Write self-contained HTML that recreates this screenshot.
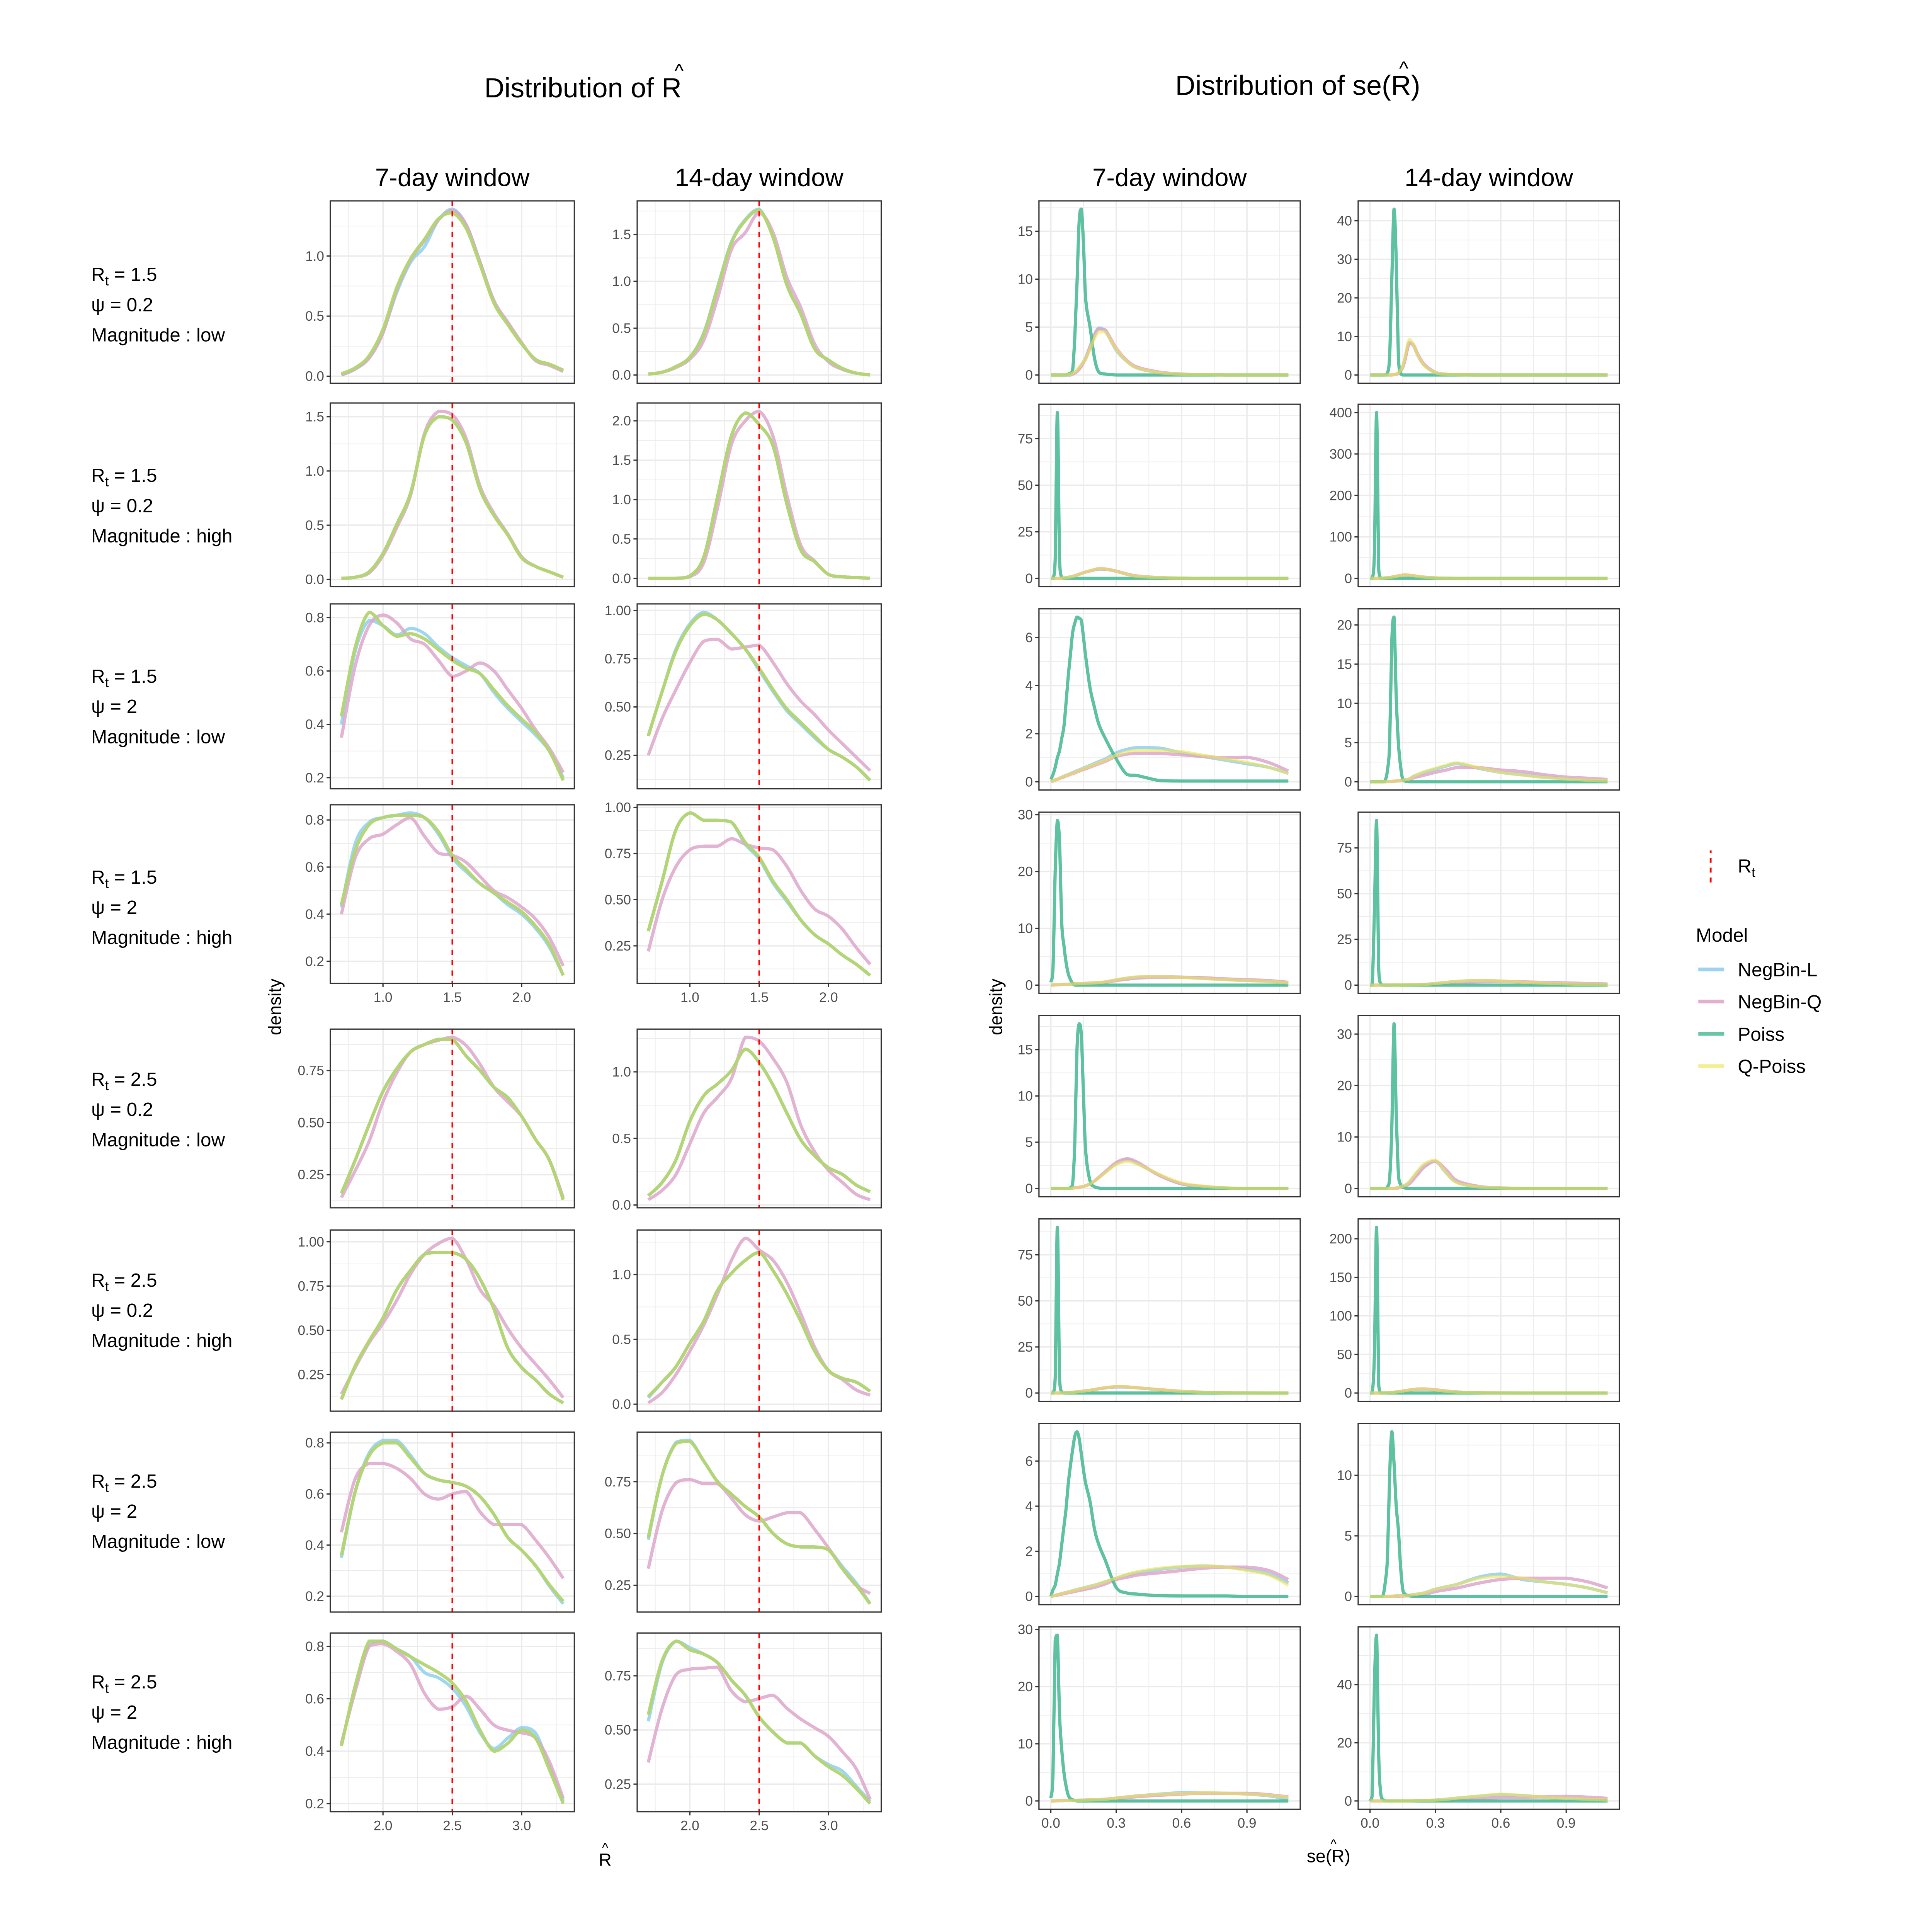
<!DOCTYPE html>
<html><head><meta charset="utf-8">
<style>
html,body{margin:0;padding:0;background:#fff;width:100%;height:100%;overflow:hidden;}
svg{display:block;width:100vw;height:100vh;}
text{font-family:"Liberation Sans",Arial,sans-serif;}
</style></head>
<body>
<svg id="chart" xmlns="http://www.w3.org/2000/svg" viewBox="0 0 1513.5 1567.6" preserveAspectRatio="xMinYMin meet">
<rect x="0" y="0" width="1513.5" height="1567.6" fill="#ffffff"/>
</svg>
<script>
// ---------- shared x grids ----------
const xR15 = [0.7,0.8,0.9,1.0,1.1,1.2,1.3,1.4,1.5,1.6,1.7,1.8,1.9,2.0,2.1,2.2,2.3];
const xR25 = [1.7,1.8,1.9,2.0,2.1,2.2,2.3,2.4,2.5,2.6,2.7,2.8,2.9,3.0,3.1,3.2,3.3];
const xSE  = [0,0.01,0.02,0.03,0.04,0.05,0.06,0.07,0.08,0.09,0.10,0.11,0.12,0.13,0.14,0.15,0.16,0.18,0.20,0.22,0.25,0.30,0.35,0.40,0.50,0.60,0.70,0.80,0.90,1.0,1.09];
const seriesNames = ["NegBin-L","NegBin-Q","Poiss","Q-Poiss"];
const rowRt  = ["1.5","1.5","1.5","1.5","2.5","2.5","2.5","2.5"];
const rowPsi = ["0.2","0.2","2","2","0.2","0.2","2","2"];
const rowMag = ["low","high","low","high","low","high","low","high"];
const trueR  = [1.5,1.5,1.5,1.5,2.5,2.5,2.5,2.5];
const xTicksR15 = [1.0,1.5,2.0];
const xTicksR25 = [2.0,2.5,3.0];
const xTicksSE  = [0.0,0.3,0.6,0.9];

// ---------- R-hat, 7-day (column 1) ----------
const c1_ticks = [[0,0.5,1.0],[0,0.5,1.0,1.5],[0.2,0.4,0.6,0.8],[0.2,0.4,0.6,0.8],[0.25,0.5,0.75],[0.25,0.5,0.75,1.0],[0.2,0.4,0.6,0.8],[0.2,0.4,0.6,0.8]];
const c1_L = [
 [0.01,0.06,0.16,0.37,0.70,0.95,1.08,1.30,1.39,1.26,0.95,0.62,0.44,0.27,0.14,0.10,0.05],
 [0.01,0.02,0.07,0.24,0.51,0.80,1.33,1.50,1.47,1.26,0.83,0.59,0.41,0.20,0.12,0.07,0.02],
 [0.40,0.675,0.79,0.77,0.735,0.76,0.74,0.69,0.65,0.62,0.59,0.52,0.46,0.41,0.36,0.30,0.20],
 [0.43,0.70,0.79,0.81,0.82,0.83,0.81,0.74,0.64,0.58,0.53,0.49,0.44,0.40,0.34,0.26,0.14],
 [0.16,0.32,0.49,0.65,0.76,0.84,0.875,0.90,0.90,0.82,0.75,0.67,0.62,0.53,0.42,0.32,0.13],
 [0.11,0.30,0.44,0.57,0.73,0.84,0.93,0.94,0.94,0.90,0.79,0.62,0.40,0.29,0.22,0.14,0.09],
 [0.35,0.61,0.76,0.81,0.81,0.75,0.68,0.655,0.645,0.63,0.59,0.52,0.43,0.38,0.32,0.24,0.17],
 [0.42,0.65,0.81,0.82,0.79,0.76,0.70,0.68,0.64,0.57,0.47,0.41,0.45,0.49,0.47,0.34,0.21]];
const c1_Q = [
 [0.01,0.06,0.15,0.36,0.72,0.97,1.13,1.30,1.38,1.26,0.95,0.63,0.45,0.28,0.13,0.09,0.04],
 [0.01,0.02,0.06,0.22,0.48,0.78,1.35,1.55,1.52,1.30,0.86,0.61,0.42,0.21,0.12,0.07,0.02],
 [0.35,0.62,0.77,0.81,0.78,0.72,0.70,0.64,0.58,0.60,0.63,0.60,0.53,0.46,0.38,0.31,0.22],
 [0.40,0.64,0.72,0.74,0.78,0.81,0.73,0.66,0.65,0.62,0.56,0.50,0.47,0.43,0.38,0.30,0.18],
 [0.14,0.27,0.41,0.60,0.74,0.84,0.875,0.895,0.91,0.87,0.78,0.67,0.60,0.53,0.42,0.32,0.14],
 [0.14,0.29,0.43,0.54,0.67,0.82,0.93,0.99,1.02,0.90,0.73,0.64,0.51,0.40,0.31,0.22,0.12],
 [0.45,0.66,0.72,0.72,0.70,0.66,0.60,0.58,0.60,0.61,0.53,0.48,0.48,0.48,0.42,0.35,0.27],
 [0.43,0.63,0.80,0.81,0.78,0.73,0.62,0.56,0.57,0.61,0.56,0.50,0.48,0.47,0.45,0.36,0.22]];
const c1_P = [
 [0.02,0.07,0.17,0.39,0.74,0.98,1.14,1.31,1.36,1.23,0.93,0.61,0.43,0.27,0.14,0.10,0.05],
 [0.01,0.02,0.07,0.24,0.51,0.80,1.33,1.50,1.47,1.26,0.83,0.59,0.41,0.20,0.12,0.07,0.02],
 [0.43,0.69,0.82,0.77,0.73,0.74,0.72,0.68,0.64,0.61,0.59,0.53,0.47,0.42,0.37,0.30,0.19],
 [0.44,0.67,0.78,0.81,0.82,0.82,0.81,0.75,0.65,0.59,0.53,0.49,0.45,0.41,0.35,0.27,0.14],
 [0.16,0.32,0.49,0.65,0.76,0.84,0.875,0.90,0.90,0.82,0.75,0.67,0.62,0.53,0.42,0.32,0.13],
 [0.11,0.30,0.44,0.57,0.73,0.84,0.93,0.94,0.94,0.90,0.79,0.62,0.40,0.29,0.22,0.14,0.09],
 [0.36,0.61,0.75,0.80,0.80,0.74,0.68,0.655,0.645,0.63,0.59,0.52,0.43,0.38,0.32,0.245,0.18],
 [0.42,0.65,0.82,0.82,0.79,0.76,0.73,0.70,0.66,0.59,0.48,0.40,0.43,0.48,0.45,0.33,0.20]];
const c1_QP = [
 [0.02,0.07,0.17,0.39,0.74,0.98,1.14,1.31,1.36,1.23,0.93,0.61,0.43,0.27,0.14,0.10,0.05],
 [0.01,0.02,0.07,0.24,0.51,0.80,1.33,1.50,1.47,1.26,0.83,0.59,0.41,0.20,0.12,0.07,0.02],
 [0.43,0.69,0.82,0.77,0.73,0.74,0.72,0.68,0.64,0.61,0.59,0.53,0.47,0.42,0.37,0.30,0.19],
 [0.44,0.67,0.78,0.81,0.82,0.82,0.81,0.75,0.65,0.59,0.53,0.49,0.45,0.41,0.35,0.27,0.14],
 [0.16,0.32,0.49,0.65,0.76,0.84,0.875,0.90,0.90,0.82,0.75,0.67,0.62,0.53,0.42,0.32,0.13],
 [0.11,0.30,0.44,0.57,0.73,0.84,0.93,0.94,0.94,0.90,0.79,0.62,0.40,0.29,0.22,0.14,0.09],
 [0.36,0.61,0.75,0.80,0.80,0.74,0.68,0.655,0.645,0.63,0.59,0.52,0.43,0.38,0.32,0.245,0.18],
 [0.42,0.65,0.82,0.82,0.79,0.76,0.73,0.70,0.66,0.59,0.48,0.40,0.43,0.48,0.45,0.33,0.20]];

// ---------- R-hat, 14-day (column 2) ----------
const c2_ticks = [[0,0.5,1.0,1.5],[0,0.5,1.0,1.5,2.0],[0.25,0.5,0.75,1.0],[0.25,0.5,0.75,1.0],[0,0.5,1.0],[0,0.5,1.0],[0.25,0.5,0.75],[0.25,0.5,0.75]];
const c2_L = [
 [0.01,0.03,0.09,0.19,0.45,0.94,1.42,1.66,1.77,1.47,0.96,0.65,0.28,0.16,0.07,0.02,0.0],
 [0.0,0.0,0.0,0.03,0.27,1.04,1.81,2.10,1.95,1.68,0.94,0.36,0.21,0.05,0.02,0.01,0.0],
 [0.35,0.58,0.80,0.93,0.99,0.95,0.88,0.80,0.69,0.58,0.48,0.41,0.34,0.28,0.24,0.19,0.12],
 [0.33,0.60,0.88,0.97,0.93,0.93,0.92,0.80,0.72,0.59,0.49,0.39,0.31,0.26,0.20,0.15,0.09],
 [0.07,0.17,0.34,0.63,0.82,0.91,1.01,1.17,1.07,0.90,0.69,0.49,0.37,0.28,0.23,0.15,0.10],
 [0.05,0.17,0.29,0.47,0.64,0.88,1.01,1.11,1.17,1.03,0.85,0.64,0.41,0.26,0.20,0.17,0.10],
 [0.47,0.78,0.94,0.95,0.85,0.75,0.69,0.63,0.58,0.50,0.45,0.435,0.435,0.42,0.34,0.26,0.16],
 [0.54,0.81,0.91,0.88,0.85,0.81,0.73,0.66,0.56,0.49,0.44,0.44,0.38,0.34,0.31,0.24,0.17]];
const c2_Q = [
 [0.01,0.03,0.08,0.17,0.37,0.82,1.34,1.52,1.73,1.52,1.04,0.72,0.33,0.14,0.06,0.02,0.0],
 [0.0,0.0,0.0,0.02,0.20,0.90,1.70,2.00,2.12,1.80,1.05,0.42,0.22,0.05,0.02,0.01,0.0],
 [0.25,0.44,0.59,0.73,0.84,0.85,0.80,0.81,0.82,0.73,0.62,0.53,0.46,0.38,0.31,0.24,0.17],
 [0.22,0.50,0.68,0.77,0.79,0.79,0.83,0.80,0.78,0.77,0.68,0.55,0.45,0.41,0.34,0.24,0.15],
 [0.04,0.11,0.23,0.46,0.69,0.81,0.95,1.26,1.23,1.10,0.92,0.60,0.40,0.26,0.17,0.08,0.04],
 [0.01,0.09,0.23,0.41,0.61,0.85,1.11,1.28,1.19,1.11,0.94,0.70,0.44,0.26,0.19,0.11,0.07],
 [0.33,0.61,0.745,0.76,0.74,0.74,0.67,0.59,0.56,0.58,0.60,0.60,0.52,0.43,0.33,0.25,0.21],
 [0.35,0.60,0.755,0.78,0.785,0.79,0.68,0.63,0.645,0.66,0.60,0.55,0.51,0.47,0.40,0.32,0.18]];
const c2_P = [
 [0.01,0.03,0.09,0.19,0.44,0.93,1.41,1.65,1.76,1.47,0.96,0.65,0.28,0.16,0.07,0.02,0.0],
 [0.0,0.0,0.0,0.03,0.27,1.04,1.81,2.10,1.95,1.68,0.94,0.36,0.21,0.05,0.02,0.01,0.0],
 [0.35,0.58,0.79,0.92,0.98,0.95,0.88,0.80,0.70,0.59,0.49,0.42,0.35,0.28,0.24,0.19,0.12],
 [0.33,0.60,0.88,0.97,0.93,0.93,0.92,0.81,0.73,0.60,0.50,0.39,0.31,0.26,0.20,0.15,0.09],
 [0.07,0.17,0.34,0.63,0.82,0.91,1.01,1.17,1.07,0.90,0.69,0.49,0.37,0.28,0.23,0.15,0.10],
 [0.06,0.17,0.29,0.47,0.64,0.88,1.01,1.11,1.17,1.03,0.85,0.64,0.41,0.26,0.20,0.17,0.10],
 [0.48,0.78,0.935,0.945,0.85,0.75,0.69,0.63,0.58,0.50,0.45,0.435,0.435,0.42,0.33,0.25,0.16],
 [0.57,0.82,0.91,0.87,0.85,0.81,0.73,0.66,0.56,0.49,0.44,0.44,0.38,0.33,0.29,0.23,0.16]];
const c2_QP = [
 [0.01,0.03,0.09,0.19,0.44,0.93,1.41,1.65,1.76,1.47,0.96,0.65,0.28,0.16,0.07,0.02,0.0],
 [0.0,0.0,0.0,0.03,0.27,1.04,1.81,2.10,1.95,1.68,0.94,0.36,0.21,0.05,0.02,0.01,0.0],
 [0.35,0.58,0.79,0.92,0.98,0.95,0.88,0.80,0.70,0.59,0.49,0.42,0.35,0.28,0.24,0.19,0.12],
 [0.33,0.60,0.88,0.97,0.93,0.93,0.92,0.81,0.73,0.60,0.50,0.39,0.31,0.26,0.20,0.15,0.09],
 [0.07,0.17,0.34,0.63,0.82,0.91,1.01,1.17,1.07,0.90,0.69,0.49,0.37,0.28,0.23,0.15,0.10],
 [0.06,0.17,0.29,0.47,0.64,0.88,1.01,1.11,1.17,1.03,0.85,0.64,0.41,0.26,0.20,0.17,0.10],
 [0.48,0.78,0.935,0.945,0.85,0.75,0.69,0.63,0.58,0.50,0.45,0.435,0.435,0.42,0.33,0.25,0.16],
 [0.57,0.82,0.91,0.87,0.85,0.81,0.73,0.66,0.56,0.49,0.44,0.44,0.38,0.33,0.29,0.23,0.16]];

// ---------- se(R-hat), 7-day (column 3) ----------
const c3_ticks = [[0,5,10,15],[0,25,50,75],[0,2,4,6],[0,10,20,30],[0,5,10,15],[0,25,50,75],[0,2,4,6],[0,10,20,30]];
const c3_P = [
 [0,0,0,0,0,0,0,0,0.1,0.2,0.5,4,9.5,16,17.3,13.6,7.9,5,1.8,0.3,0.1,0,0,0,0,0,0,0,0,0,0],
 [0,0,10,89,10,0.5,0,0,0,0,0,0,0,0,0,0,0,0,0,0,0,0,0,0,0,0,0,0,0,0,0],
 [0.1,0.3,0.6,1,1.3,1.8,2.3,3.3,4.4,5.3,6.2,6.6,6.85,6.8,6.7,6,5.2,3.9,3.1,2.4,1.8,0.95,0.3,0.25,0.05,0.03,0.03,0.03,0.03,0.03,0.03],
 [0.5,3,20,29,25,11,7,4,2,1,0.3,0,0,0,0,0,0,0,0,0,0,0,0,0,0,0,0,0,0,0,0],
 [0,0,0,0,0,0,0,0,0,0.1,0.5,5,15,17.8,16.5,10,4,0.8,0.2,0.05,0,0,0,0,0,0,0,0,0,0,0],
 [0,0,8,90,8,0.5,0,0,0,0,0,0,0,0,0,0,0,0,0,0,0,0,0,0,0,0,0,0,0,0,0],
 [0,0.3,0.5,1,1.5,2.3,3.1,3.9,5,5.8,6.5,7.1,7.3,7.0,6.3,5.6,5,4.2,3,2.3,1.6,0.4,0.15,0.1,0.03,0.02,0.02,0.02,0,0,0],
 [0.5,5,28,29,15,9,5,2.6,1,0.4,0.2,0.1,0,0,0,0,0,0,0,0,0,0,0,0,0,0,0,0,0,0,0]];
const c3_L = [
 [0,0,0,0,0,0,0,0,0,0,0.1,0.2,0.4,0.7,1,1.4,1.8,3,4.2,4.9,4.6,2.6,1.4,0.7,0.25,0.08,0.03,0,0,0,0],
 [0,0,0,0,0,0.1,0.2,0.4,0.6,0.8,1.1,1.4,1.8,2.2,2.6,3,3.4,4,4.6,5,4.9,3.8,2.2,1.2,0.4,0.1,0,0,0,0,0],
 [0,0.04,0.08,0.11,0.15,0.19,0.23,0.27,0.3,0.34,0.38,0.42,0.46,0.49,0.53,0.57,0.61,0.68,0.76,0.84,0.95,1.2,1.35,1.42,1.4,1.2,1.05,0.9,0.75,0.6,0.35],
 [0,0.02,0.04,0.06,0.08,0.1,0.12,0.14,0.16,0.18,0.2,0.22,0.24,0.26,0.28,0.3,0.32,0.36,0.4,0.45,0.55,0.9,1.2,1.4,1.5,1.4,1.2,1.0,0.8,0.7,0.4],
 [0,0,0,0,0,0,0,0,0,0,0.05,0.07,0.1,0.13,0.17,0.22,0.3,0.5,0.8,1.2,1.8,2.7,3.1,2.7,1.4,0.5,0.2,0.05,0,0,0],
 [0,0,0,0,0,0.05,0.1,0.15,0.2,0.3,0.4,0.5,0.6,0.75,0.9,1.05,1.2,1.5,1.9,2.3,2.8,3.3,3.2,2.8,1.8,0.9,0.4,0.15,0.05,0,0],
 [0,0.03,0.05,0.08,0.1,0.13,0.15,0.18,0.2,0.23,0.25,0.28,0.3,0.33,0.35,0.38,0.4,0.45,0.5,0.56,0.65,0.8,0.95,1.05,1.2,1.3,1.35,1.3,1.2,1.0,0.6],
 [0,0.01,0.02,0.03,0.04,0.05,0.06,0.07,0.08,0.09,0.1,0.11,0.12,0.13,0.14,0.15,0.16,0.18,0.2,0.25,0.3,0.5,0.7,0.9,1.2,1.45,1.4,1.35,1.2,0.9,0.3]];
const c3_Q = [
 [0,0,0,0,0,0,0,0,0,0,0.1,0.2,0.35,0.6,0.9,1.3,1.7,2.9,4.1,4.8,4.7,2.8,1.5,0.8,0.3,0.1,0.03,0,0,0,0],
 [0,0,0,0,0,0.1,0.2,0.4,0.6,0.8,1.1,1.4,1.8,2.2,2.6,3,3.4,4,4.6,5.1,5.0,3.9,2.3,1.2,0.4,0.1,0,0,0,0,0],
 [0,0.03,0.07,0.1,0.14,0.17,0.2,0.24,0.27,0.31,0.34,0.37,0.41,0.44,0.48,0.51,0.54,0.61,0.68,0.75,0.85,1.05,1.15,1.18,1.18,1.12,1.05,1.0,1.02,0.8,0.45],
 [0,0.02,0.04,0.06,0.08,0.1,0.12,0.14,0.16,0.18,0.2,0.22,0.24,0.26,0.28,0.3,0.32,0.35,0.38,0.42,0.5,0.8,1.05,1.25,1.4,1.4,1.3,1.1,0.95,0.8,0.5],
 [0,0,0,0,0,0,0,0,0,0,0.05,0.07,0.1,0.13,0.17,0.22,0.3,0.5,0.8,1.2,1.8,2.8,3.2,2.8,1.4,0.5,0.2,0.05,0,0,0],
 [0,0,0,0,0,0.05,0.1,0.15,0.2,0.3,0.4,0.5,0.6,0.75,0.9,1.05,1.2,1.5,1.9,2.3,2.8,3.4,3.3,2.8,1.8,0.9,0.4,0.15,0.05,0,0],
 [0,0.02,0.04,0.06,0.08,0.1,0.12,0.14,0.16,0.18,0.2,0.22,0.24,0.26,0.28,0.3,0.32,0.36,0.4,0.46,0.55,0.75,0.85,0.95,1.05,1.15,1.25,1.3,1.3,1.15,0.75],
 [0,0.01,0.02,0.03,0.04,0.05,0.06,0.07,0.08,0.09,0.1,0.11,0.12,0.13,0.14,0.15,0.16,0.18,0.2,0.25,0.3,0.45,0.6,0.75,1.0,1.2,1.35,1.35,1.35,1.1,0.7]];
const c3_QP = [
 [0,0,0,0,0,0,0,0,0.05,0.1,0.2,0.3,0.5,0.8,1.1,1.4,1.7,2.7,3.8,4.5,4.5,2.7,1.4,0.7,0.25,0.08,0.03,0,0,0,0],
 [0,0,0,0,0,0.1,0.2,0.4,0.6,0.8,1.1,1.4,1.8,2.2,2.6,3,3.4,4.1,4.8,5.3,5.1,3.8,2.1,1.1,0.4,0.1,0,0,0,0,0],
 [0,0.04,0.07,0.11,0.14,0.18,0.22,0.25,0.29,0.32,0.36,0.4,0.43,0.47,0.5,0.54,0.58,0.65,0.72,0.79,0.9,1.1,1.25,1.3,1.3,1.25,1.1,0.95,0.8,0.6,0.35],
 [0,0.02,0.04,0.06,0.08,0.1,0.12,0.14,0.16,0.18,0.2,0.22,0.24,0.26,0.28,0.3,0.32,0.36,0.4,0.46,0.58,0.95,1.25,1.45,1.5,1.35,1.15,0.95,0.8,0.65,0.4],
 [0,0,0,0,0,0,0,0,0,0,0.05,0.07,0.1,0.13,0.17,0.22,0.3,0.5,0.8,1.15,1.7,2.6,2.9,2.6,1.5,0.6,0.25,0.07,0,0,0],
 [0,0,0,0,0,0.05,0.1,0.15,0.2,0.3,0.4,0.5,0.6,0.75,0.9,1.05,1.2,1.5,1.9,2.3,2.9,3.5,3.3,2.8,1.8,0.9,0.4,0.15,0.05,0,0],
 [0,0.03,0.05,0.08,0.1,0.13,0.15,0.18,0.2,0.23,0.25,0.28,0.3,0.33,0.35,0.38,0.4,0.45,0.5,0.56,0.65,0.82,0.98,1.1,1.25,1.32,1.35,1.3,1.15,0.95,0.5],
 [0,0.01,0.02,0.03,0.04,0.05,0.06,0.07,0.08,0.09,0.1,0.11,0.12,0.13,0.14,0.15,0.16,0.18,0.2,0.25,0.3,0.5,0.7,0.9,1.15,1.3,1.4,1.35,1.2,1.0,0.6]];

// ---------- se(R-hat), 14-day (column 4) ----------
const c4_ticks = [[0,10,20,30,40],[0,100,200,300,400],[0,5,10,15,20],[0,25,50,75],[0,10,20,30],[0,50,100,150,200],[0,5,10],[0,20,40]];
const c4_P = [
 [0,0,0,0,0,0,0,0,0.5,5,25,43,30,5,0.5,0,0,0,0,0,0,0,0,0,0,0,0,0,0,0,0],
 [0,0,60,400,20,0,0,0,0,0,0,0,0,0,0,0,0,0,0,0,0,0,0,0,0,0,0,0,0,0,0],
 [0,0,0,0,0,0,0,0.2,1.5,5,18,21,11,5,2,0.3,0.1,0,0,0,0,0,0,0,0,0,0,0,0,0,0],
 [0,0,40,90,8,0.5,0,0,0,0,0,0,0,0,0,0,0,0,0,0,0,0,0,0,0,0,0,0,0,0,0],
 [0,0,0,0,0,0,0,0,0.3,2,12,32,15,3,0.8,0.3,0.1,0,0,0,0,0,0,0,0,0,0,0,0,0,0],
 [0,0,50,215,10,0,0,0,0,0,0,0,0,0,0,0,0,0,0,0,0,0,0,0,0,0,0,0,0,0,0],
 [0,0,0,0,0,0,0.1,1.2,3.3,10,13.6,11,7.5,5.5,2.5,0.6,0.2,0.05,0,0,0,0,0,0,0,0,0,0,0,0,0],
 [0,2,40,57,15,2,0.5,0.1,0,0,0,0,0,0,0,0,0,0,0,0,0,0,0,0,0,0,0,0,0,0,0]];
const c4_L = [
 [0,0,0,0,0,0,0,0,0,0,0,0.1,0.2,0.5,1,2,4,8.5,7.5,5,2.5,0.6,0.2,0.05,0,0,0,0,0,0,0],
 [0,0,0,0,0,0.2,0.5,1,1.5,2.2,3,4,5,6,7,7.8,8,7.2,6,4.5,2.8,1,0.3,0.1,0,0,0,0,0,0,0],
 [0,0,0,0,0,0,0,0,0.02,0.04,0.06,0.08,0.1,0.13,0.16,0.2,0.25,0.35,0.7,0.9,1.2,1.6,2.0,2.3,1.7,1.2,0.9,0.6,0.4,0.2,0.1],
 [0,0,0,0,0,0,0,0,0,0,0,0.02,0.04,0.06,0.08,0.1,0.12,0.15,0.2,0.25,0.4,0.9,1.5,2.0,2.5,2.2,1.6,1.1,0.7,0.4,0.2],
 [0,0,0,0,0,0,0,0,0,0,0,0,0.1,0.2,0.3,0.45,0.6,1.2,2.2,3.2,4.5,5.3,3,1.2,0.3,0.1,0,0,0,0,0],
 [0,0,0,0,0,0,0.1,0.2,0.3,0.5,0.7,1,1.3,1.7,2.1,2.5,3,3.8,4.5,5,5,4,2.5,1.3,0.4,0.1,0,0,0,0,0],
 [0,0,0,0,0,0,0,0,0,0,0.02,0.03,0.04,0.05,0.06,0.07,0.08,0.1,0.15,0.2,0.3,0.6,0.8,1.0,1.6,1.85,1.4,1.2,1.0,0.7,0.3],
 [0,0,0,0,0,0,0,0,0,0,0,0,0,0,0,0,0,0,0.05,0.1,0.2,0.3,0.6,1.0,1.6,2.1,1.8,1.3,0.9,0.6,0.3]];
const c4_Q = [
 [0,0,0,0,0,0,0,0,0,0,0,0.1,0.2,0.5,1,2,3.8,8.3,7.8,5.3,2.7,0.7,0.2,0.05,0,0,0,0,0,0,0],
 [0,0,0,0,0,0.2,0.5,1,1.5,2.2,3,4,5,6,7,7.8,8.2,7.5,6.2,4.6,2.9,1,0.3,0.1,0,0,0,0,0,0,0],
 [0,0,0,0,0,0,0,0,0.02,0.03,0.05,0.07,0.09,0.11,0.14,0.17,0.2,0.28,0.5,0.65,0.85,1.2,1.5,1.8,1.8,1.5,1.3,0.9,0.6,0.45,0.3],
 [0,0,0,0,0,0,0,0,0,0,0,0.02,0.03,0.05,0.07,0.08,0.1,0.12,0.16,0.2,0.3,0.7,1.1,1.4,1.8,2.0,1.8,1.5,1.2,0.9,0.6],
 [0,0,0,0,0,0,0,0,0,0,0,0,0.05,0.1,0.2,0.3,0.4,0.9,1.8,2.8,4.2,5.3,3.6,1.5,0.4,0.1,0,0,0,0,0],
 [0,0,0,0,0,0,0.1,0.2,0.3,0.5,0.7,1,1.3,1.7,2.1,2.5,3,3.8,4.6,5.2,5.3,4.2,2.6,1.3,0.4,0.1,0,0,0,0,0],
 [0,0,0,0,0,0,0,0,0,0,0.01,0.01,0.02,0.02,0.03,0.03,0.04,0.05,0.07,0.1,0.15,0.4,0.55,0.7,1.1,1.4,1.5,1.5,1.5,1.2,0.7],
 [0,0,0,0,0,0,0,0,0,0,0,0,0,0,0,0,0,0,0.02,0.03,0.05,0.1,0.2,0.4,0.8,1.2,1.3,1.4,1.6,1.3,0.9]];
const c4_QP = [
 [0,0,0,0,0,0,0,0,0,0,0,0.1,0.3,0.6,1.2,2.3,4.5,9.2,7.8,5,2.4,0.6,0.2,0.05,0,0,0,0,0,0,0],
 [0,0,0,0,0,0.2,0.5,1,1.5,2.2,3,4,5,6,7,8,8.5,7.8,6.5,4.8,3,1,0.3,0.1,0,0,0,0,0,0,0],
 [0,0,0,0,0,0,0,0,0.02,0.04,0.06,0.08,0.1,0.13,0.16,0.2,0.25,0.35,0.7,0.95,1.3,1.7,2.1,2.4,1.8,1.2,0.85,0.55,0.35,0.2,0.1],
 [0,0,0,0,0,0,0,0,0,0,0,0.02,0.04,0.06,0.08,0.1,0.12,0.15,0.2,0.25,0.4,0.9,1.5,2.1,2.6,2.2,1.6,1.1,0.7,0.4,0.2],
 [0,0,0,0,0,0,0,0,0,0,0,0,0.1,0.2,0.3,0.45,0.6,1.3,2.4,3.5,4.8,5.5,3,1.1,0.3,0.1,0,0,0,0,0],
 [0,0,0,0,0,0,0.1,0.2,0.3,0.5,0.7,1,1.3,1.7,2.1,2.5,3,3.9,4.7,5.3,5.2,4,2.4,1.2,0.4,0.1,0,0,0,0,0],
 [0,0,0,0,0,0,0,0,0,0,0.02,0.03,0.04,0.05,0.06,0.07,0.08,0.1,0.15,0.2,0.3,0.6,0.8,1.0,1.5,1.65,1.5,1.2,1.0,0.7,0.3],
 [0,0,0,0,0,0,0,0,0,0,0,0,0,0,0,0,0,0,0.05,0.1,0.2,0.3,0.6,1.0,1.7,2.3,1.9,1.3,0.9,0.6,0.3]];
</script>
<script>
const NS = "http://www.w3.org/2000/svg";
const svg = document.getElementById("chart");
const COLORS = ["#8ECFF0","#DDA6CA","#4DBB98","#EFE35C"];
const OPAC = [0.85,0.85,0.9,0.62];
const colX = [[268,466],[517,715],[843,1055],[1102,1314]];
const leftRows = [[163,311],[327,476],[490,640],[653,798],[835,980],[998,1145],[1162,1308],[1325,1470]];
const rightRows = [[163,311],[328,476],[494,641],[659,806],[824,971],[989,1137],[1155,1302],[1320,1468]];

function mk(tag, attrs, parent){
  const e = document.createElementNS(NS, tag);
  for (const k in attrs) e.setAttribute(k, attrs[k]);
  (parent||svg).appendChild(e);
  return e;
}
function decimals(arr){
  let d = 0;
  arr.forEach(v=>{ const s = String(v); const i = s.indexOf("."); if(i>=0) d = Math.max(d, s.length-i-1); });
  return d;
}
function smoothPath(pts){
  let d = "M" + pts[0][0].toFixed(2) + "," + pts[0][1].toFixed(2);
  for (let i=0;i<pts.length-1;i++){
    const p0 = pts[Math.max(0,i-1)], p1 = pts[i], p2 = pts[i+1], p3 = pts[Math.min(pts.length-1,i+2)];
    const lo = Math.min(p1[1],p2[1]), hi = Math.max(p1[1],p2[1]);
    const c1x = p1[0] + (p2[0]-p0[0])/6, c2x = p2[0] - (p3[0]-p1[0])/6;
    let c1y = p1[1] + (p2[1]-p0[1])/6, c2y = p2[1] - (p3[1]-p1[1])/6;
    c1y = Math.min(hi, Math.max(lo, c1y)); c2y = Math.min(hi, Math.max(lo, c2y));
    d += " C" + c1x.toFixed(2)+","+c1y.toFixed(2)+" "+c2x.toFixed(2)+","+c2y.toFixed(2)+" "+p2[0].toFixed(2)+","+p2[1].toFixed(2);
  }
  return d;
}

function drawPanel(row, col, xs, series, yticks, xticks, showX, rTrue){
  const [x0,x1] = colX[col];
  const [y0,y1] = (col<2 ? leftRows : rightRows)[row];
  const g = mk("g", {});
  
  
  const xmin = Math.min(...xs), xmax = Math.max(...xs);
  const xr = xmax - xmin;
  const dx0 = xmin - 0.05*xr, dx1 = xmax + 0.05*xr;
  let ymin = Infinity, ymax = -Infinity;
  series.forEach(s=>s.forEach(v=>{ if(v<ymin) ymin=v; if(v>ymax) ymax=v; }));
  const yr = ymax - ymin;
  const dy0 = ymin - 0.05*yr, dy1 = ymax + 0.05*yr;
  const sx = v => x0 + (v-dx0)/(dx1-dx0)*(x1-x0);
  const sy = v => y1 - (v-dy0)/(dy1-dy0)*(y1-y0);
  const ystep = yticks[1]-yticks[0];
  for (let v = yticks[0]-ystep/2; v <= dy1; v += ystep/2){
    if (v < dy0) continue;
    const isMajor = yticks.some(t=>Math.abs(t-v)<1e-9);
    const gl = mk("line", {x1:x0,x2:x1,y1:sy(v),y2:sy(v),stroke:"#EBEBEB","stroke-width":isMajor?1.1:0.55}, g);
    
    
  }
  const xstep = xticks[1]-xticks[0];
  for (let v = xticks[0]-xstep; v <= dx1; v += xstep/2){
    if (v < dx0) continue;
    const isMajor = Math.abs(((v-xticks[0])/xstep) - Math.round((v-xticks[0])/xstep))<1e-6;
    const gl = mk("line", {x1:sx(v),x2:sx(v),y1:y0,y2:y1,stroke:"#EBEBEB","stroke-width":isMajor?1.1:0.55}, g);
    
    
  }
  for (let s=0;s<series.length;s++){
    const pts = xs.map((x,i)=>[sx(x), sy(series[s][i])]);
    const p = mk("path", {d:smoothPath(pts), fill:"none", stroke:COLORS[s], "stroke-width":2.6, "stroke-opacity":OPAC[s], "stroke-linejoin":"round","stroke-linecap":"butt"}, g);
    
    
  }
  if (rTrue !== null){
    const rl = mk("line", {x1:sx(rTrue),x2:sx(rTrue),y1:y0,y2:y1,stroke:"#FF0000","stroke-width":1.3,"stroke-dasharray":"4.2,4.2"}, g);
    
    
  }
  const b = mk("rect", {x:x0,y:y0,width:x1-x0,height:y1-y0,fill:"none",stroke:"#333333","stroke-width":1}, g);
  
  
  const yd = decimals(yticks);
  yticks.forEach(t=>{
    const tk = mk("line", {x1:x0-3,x2:x0,y1:sy(t),y2:sy(t),stroke:"#333333","stroke-width":1}, g);
    
    
    const tl = mk("text", {x:x0-5,y:sy(t)+3.8,"text-anchor":"end","font-size":11,fill:"#4D4D4D"}, g);
    tl.textContent = t.toFixed(yd);
    
    
  });
  if (showX){
    xticks.forEach(t=>{
      const tk = mk("line", {x1:sx(t),x2:sx(t),y1:y1,y2:y1+3,stroke:"#333333","stroke-width":1}, g);
      
      
      const tl = mk("text", {x:sx(t),y:y1+15,"text-anchor":"middle","font-size":11,fill:"#4D4D4D"}, g);
      tl.textContent = t.toFixed(1);
      
      
    });
  }
}

for (let r=0;r<8;r++){
  const xs = r<4 ? xR15 : xR25;
  const xt = r<4 ? xTicksR15 : xTicksR25;
  drawPanel(r,0,xs,[c1_L[r],c1_Q[r],c1_P[r],c1_QP[r]],c1_ticks[r],xt,(r===3||r===7),trueR[r]);
  drawPanel(r,1,xs,[c2_L[r],c2_Q[r],c2_P[r],c2_QP[r]],c2_ticks[r],xt,(r===3||r===7),trueR[r]);
  drawPanel(r,2,xSE,[c3_L[r],c3_Q[r],c3_P[r],c3_QP[r]],c3_ticks[r],xTicksSE,(r===7),null);
  drawPanel(r,3,xSE,[c4_L[r],c4_Q[r],c4_P[r],c4_QP[r]],c4_ticks[r],xTicksSE,(r===7),null);
}

const rowLabelY = [228,391,554,717,881,1044,1207,1370];
for (let r=0;r<8;r++){
  const y = rowLabelY[r];
  const t1 = mk("text", {x:74,y:y,"font-size":15.5,fill:"#000"});
  
  
  const a = mk("tspan", {}, t1); a.textContent = "R";
  const b = mk("tspan", {dy:3.5,"font-size":11}, t1); b.textContent = "t";
  const c = mk("tspan", {dy:-3.5}, t1); c.textContent = " = " + rowRt[r];
  const t2 = mk("text", {x:74,y:y+24.5,"font-size":15.5,fill:"#000"});
  t2.textContent = "\u03C8 = " + rowPsi[r];
  
  
  const t3 = mk("text", {x:74,y:y+49,"font-size":15.5,fill:"#000"});
  t3.textContent = "Magnitude : " + rowMag[r];
  
  
}

const stripX = [367,616,949,1208];
const stripT = ["7-day window","14-day window","7-day window","14-day window"];
for (let i=0;i<4;i++){
  const t = mk("text", {x:stripX[i],y:151,"text-anchor":"middle","font-size":20.5,fill:"#000"});
  t.textContent = stripT[i];
  
  
}
</script>
<script>
(function(){
  const NS = "http://www.w3.org/2000/svg";
  const svg = document.getElementById("chart");
  function mk(tag, attrs){ const e=document.createElementNS(NS,tag); for(const k in attrs) e.setAttribute(k,attrs[k]); svg.appendChild(e); return e; }

  const t1 = mk("text",{x:393,y:79,"text-anchor":"start","font-size":22.5,fill:"#000"});
  t1.textContent = "Distribution of R";
  
  
  const h1 = mk("text",{x:551,y:63,"text-anchor":"middle","font-size":16,fill:"#000"});
  h1.textContent = "^";
  
  

  const t2 = mk("text",{x:1053,y:77,"text-anchor":"middle","font-size":22.5,fill:"#000"});
  t2.textContent = "Distribution of se(R)";
  
  
  const h2 = mk("text",{x:1139,y:61,"text-anchor":"middle","font-size":16,fill:"#000"});
  h2.textContent = "^";
  
  

  const yl = mk("text",{x:0,y:0,"text-anchor":"middle","font-size":14.5,fill:"#000",transform:"translate(228,817) rotate(-90)"});
  yl.textContent = "density";
  
  
  const yr = mk("text",{x:0,y:0,"text-anchor":"middle","font-size":14.5,fill:"#000",transform:"translate(813,817) rotate(-90)"});
  yr.textContent = "density";
  
  

  const xl = mk("text",{x:491,y:1514,"text-anchor":"middle","font-size":14.5,fill:"#000"});
  xl.textContent = "R";
  
  
  const xlh = mk("text",{x:491,y:1503,"text-anchor":"middle","font-size":11,fill:"#000"});
  xlh.textContent = "^";
  
  
  const xr = mk("text",{x:1078,y:1511,"text-anchor":"middle","font-size":14.5,fill:"#000"});
  xr.textContent = "se(R)";
  
  
  const xrh = mk("text",{x:1082,y:1500,"text-anchor":"middle","font-size":11,fill:"#000"});
  xrh.textContent = "^";
  
  

  const ld = mk("line",{x1:1388,x2:1388,y1:690,y2:717,stroke:"#FF0000","stroke-width":1.5,"stroke-dasharray":"4,4","stroke-dashoffset":"2"});
  
  
  const lt = mk("text",{x:1410,y:708,"font-size":15.5,fill:"#000"});
  
  
  const a = document.createElementNS(NS,"tspan"); a.textContent="R"; lt.appendChild(a);
  const b = document.createElementNS(NS,"tspan"); b.setAttribute("dy","3.5"); b.setAttribute("font-size","11"); b.textContent="t"; lt.appendChild(b);

  const mt = mk("text",{x:1376,y:764,"font-size":15.5,fill:"#000"});
  mt.textContent = "Model";
  
  

  const names = ["NegBin-L","NegBin-Q","Poiss","Q-Poiss"];
  const cols = ["#9BD3F0","#E0B0CC","#69C5A8","#F5EE90"];
  const ly = [786.6,812.6,838.9,865];
  for (let i=0;i<4;i++){
    const l = mk("line",{x1:1378,x2:1399,y1:ly[i],y2:ly[i],stroke:cols[i],"stroke-width":3});
    
    
    const t = mk("text",{x:1410,y:ly[i]+5.5,"font-size":15.5,fill:"#000"});
    t.textContent = names[i];
    
    
  }
})();
</script>
</body></html>
